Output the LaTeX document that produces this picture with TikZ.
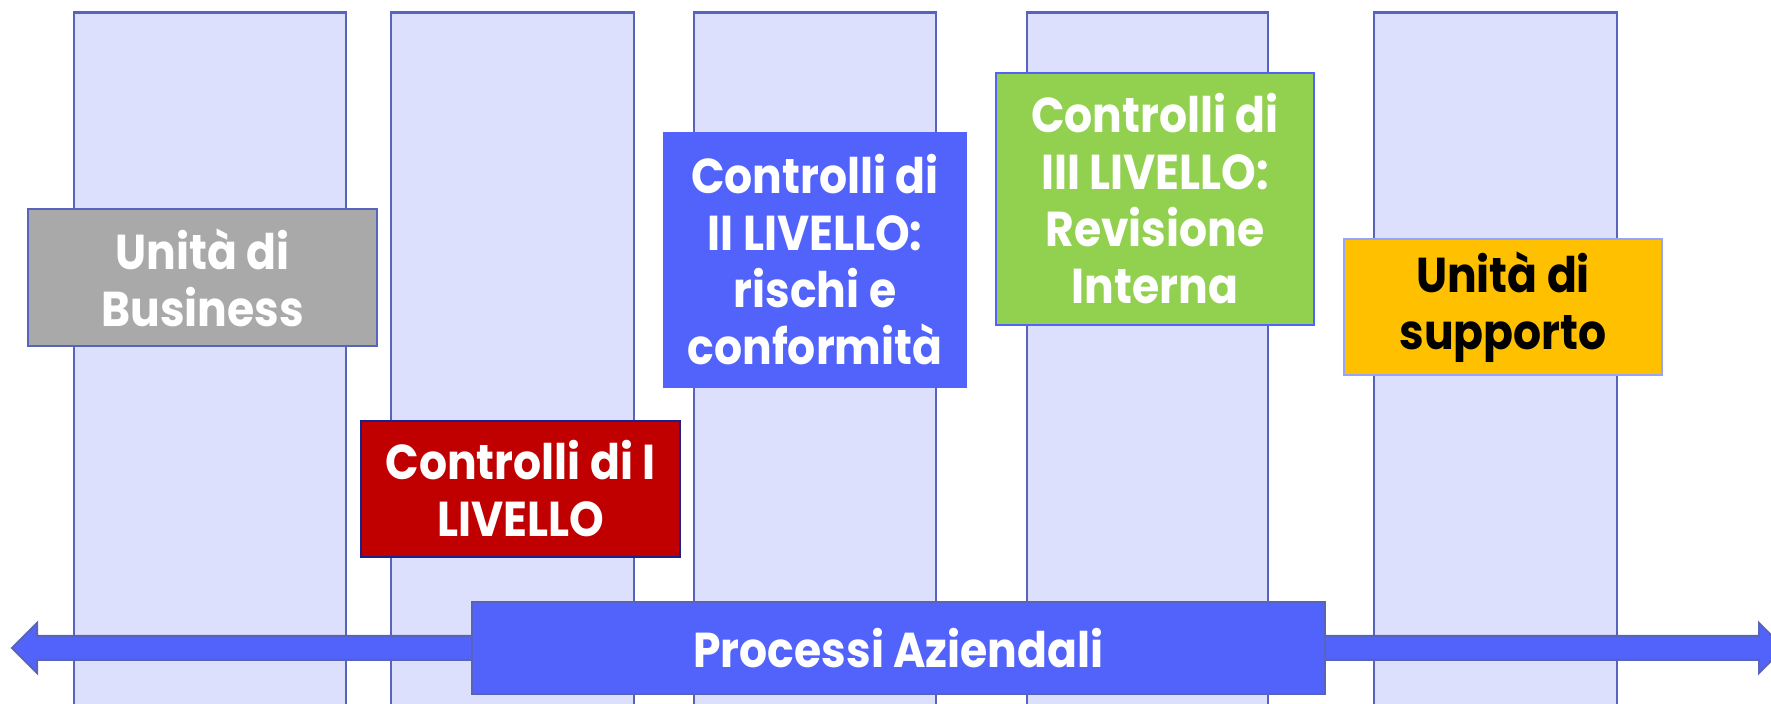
\documentclass[tikz,border=0pt]{standalone}
\usepackage{fontspec}
\newfontfamily\boxfont{Poppins}[FakeStretch=0.9]
\usepackage{tikz}

\definecolor{colfill}{RGB}{221,224,252}
\definecolor{colline}{RGB}{88,100,188}
\definecolor{busgray}{RGB}{169,169,169}
\definecolor{ctrlred}{RGB}{192,0,0}
\definecolor{ctrlnavy}{RGB}{30,30,140}
\definecolor{ctrlblue}{RGB}{82,99,252}
\definecolor{ctrlgreen}{RGB}{146,208,80}
\definecolor{supyellow}{RGB}{255,192,0}
\definecolor{suplight}{RGB}{150,165,250}

\tikzset{
  column/.style={draw=colline, fill=colfill, line width=1.1pt},
  levelbox/.style={rectangle, line width=1pt, align=center, inner sep=0pt,
    font=\boxfont\bfseries\fontsize{24.5}{28.5}\selectfont, text=white}
}

\begin{document}
\begin{tikzpicture}[x=0.5pt, y=-0.5pt]

  \newcommand\PX{0.5pt};
  \newcommand\YTOP{12.5};
  \newcommand\YBOT{720};
  \newcommand\YMID{648};

  \useasboundingbox (0,0) rectangle (1771,704);

  % the five columns
  \draw[column] (74, \YTOP) rectangle (346, \YBOT);
  \draw[column] (391, \YTOP) rectangle (634, \YBOT);
  \draw[column] (694, \YTOP) rectangle (936, \YBOT);
  \draw[column] (1027, \YTOP) rectangle (1268, \YBOT);
  \draw[column] (1374, \YTOP) rectangle (1617, \YBOT);

  % double arrow across
  \draw[fill=ctrlblue, draw=colline, line width=1pt]
  (12, \YMID) -- (37, \YMID - 25) -- (37, \YMID - 12)
  -- (1759, \YMID - 12) -- (1759, \YMID - 25) -- (1784, \YMID)
  -- (1759, \YMID + 25) -- (1759, \YMID + 12)
  -- (37, \YMID + 12) -- (37, \YMID + 25) -- cycle;

  \node[levelbox, fill=busgray, draw=colline,
  minimum width=349*\PX, minimum height=137*\PX]
  (business) at (202.5, 277.5) {Unità di\\Business};

  \node[levelbox, fill=ctrlred, draw=ctrlnavy,
  minimum width=319*\PX, minimum height=136*\PX]
  (ctrlI) at (520.5, 489) {Controlli di I\\LIVELLO};

  \node[levelbox, fill=ctrlblue, draw=ctrlblue,
  minimum width=302*\PX, minimum height=254*\PX]
  (ctrlII) at (815, 260) {Controlli di\\II LIVELLO:\\rischi e\\conformità};

  \node[levelbox, fill=ctrlgreen, draw=ctrlblue, line width=0.6pt,
  minimum width=318*\PX, minimum height=252*\PX]
  (ctrlIII) at (1155, 199) {Controlli di\\III LIVELLO:\\Revisione\\Interna};

  \node[levelbox, fill=supyellow, draw=suplight, text=black,
  minimum width=318*\PX, minimum height=136*\PX]
  (support) at (1503, 307) {Unità di\\supporto};

  \node[levelbox, fill=ctrlblue, draw=colline,
  minimum width=853*\PX, minimum height=92*\PX]
  (processi) at (898.5, 648) {Processi Aziendali};

\end{tikzpicture}
\end{document}
